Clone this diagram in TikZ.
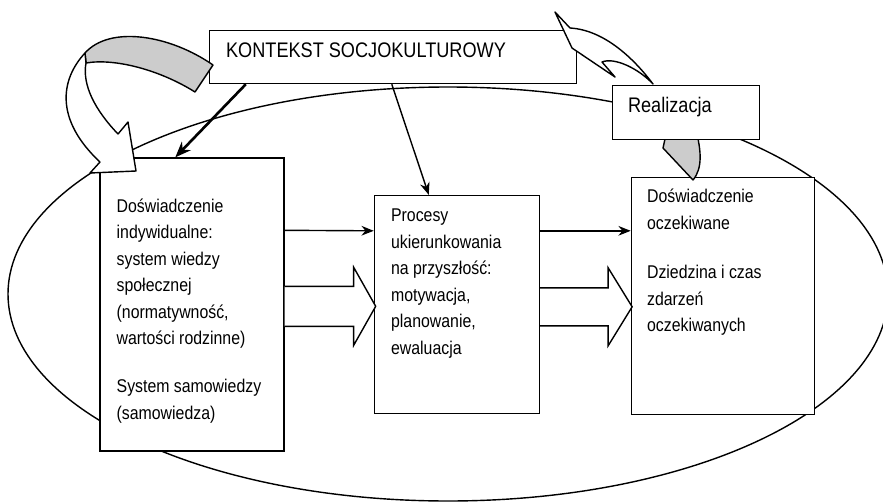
\documentclass[tikz,border=0pt]{standalone}
\usepackage{fontspec}
\setmainfont{Liberation Sans}[FakeStretch=0.86]
\usetikzlibrary{arrows.meta}
\tikzstyle{box} = [
    rectangle,
    inner sep=0pt,
    draw=black, line width=0.8pt, fill=white
]
\tikzstyle{txt} = [
    inner sep=0pt,
    font=\fontsize{10.5}{15.1}\selectfont
]
\tikzstyle{bigtxt} = [
    inner sep=0pt,
    font=\fontsize{12}{14}\selectfont
]
\tikzstyle{band} = [draw=black, line width=0.8pt, line join=round]
\tikzstyle{hollow} = [draw=black, fill=white, line width=0.8pt]
\tikzstyle{arrow} = [line width=0.8pt, ->, >={Stealth[length=7pt, width=5.5pt]}]
\tikzstyle{thickarrow} = [line width=1.5pt, ->, >={Stealth[length=9pt, width=7pt]}]

\begin{document}
\begin{tikzpicture}[x=0.02cm, y=-0.02cm, node distance=5.3cm]
        \useasboundingbox (0,0) rectangle (883,504);
        % Draw oval
        \draw[line width=0.8pt] (448,294) ellipse [x radius=440, y radius=207];

        % Draw blocks
        \node (indyw) [box, minimum width=3.68cm, minimum height=5.86cm] at (192,304.5) {};
        \node (procesy) [box, minimum width=3.3cm, minimum height=4.36cm, right of=indyw] {};
        \node (oczek) [box, minimum width=3.66cm, minimum height=4.74cm, right of=procesy, xshift=0.02cm, yshift=0.17cm] {};
        \node (kontekst) [box, minimum width=7.34cm, minimum height=1.06cm, above of=procesy, xshift=-1.28cm, yshift=-0.35cm] {};
        \draw[band, fill=black!20] (667,130) -- (663,148) -- (693,180) .. controls (703,168) and (701,150) .. (696,130) -- cycle;
        \node (realizacja) [box, minimum width=2.94cm, minimum height=1.08cm, right of=kontekst, xshift=0.56cm, yshift=-1.11cm] {};

        % Draw texts
        \node (indyw-t) [txt, anchor=base west] at ([shift={(17,55)}]indyw.north west)
            {\begin{tabular}[t]{@{}l@{}}Doświadczenie\\ indywidualne:\\ system wiedzy\\ społecznej\\ (normatywność,\\ wartości rodzinne)\\[12pt] System samowiedzy\\ (samowiedza)\end{tabular}};
        \node (procesy-t) [txt, anchor=base west] at ([shift={(17,27)}]procesy.north west)
            {\begin{tabular}[t]{@{}l@{}}Procesy\\ ukierunkowania\\ na przyszłość:\\ motywacja,\\ planowanie,\\ ewaluacja\end{tabular}};
        \node (oczek-t) [txt, anchor=base west] at ([shift={(16,26)}]oczek.north west)
            {\begin{tabular}[t]{@{}l@{}}Doświadczenie\\ oczekiwane\\[13pt] Dziedzina i czas\\ zdarzeń\\ oczekiwanych\end{tabular}};
        \node (kontekst-t) [bigtxt, anchor=base west] at ([shift={(17,28)}]kontekst.north west) {KONTEKST SOCJOKULTUROWY};
        \node (realizacja-t) [bigtxt, anchor=base west] at ([shift={(16,28)}]realizacja.north west) {Realizacja};

        % Draw curved arrows
        \draw[band, fill=black!20] (85,53) .. controls (110,25) and (170,35) .. (213,65) -- (195,92) .. controls (160,70) and (115,58) .. (86,63) -- cycle;
        \draw[band, fill=white] (85,53) .. controls (60,80) and (55,120) .. (100,162) -- (90,173) -- (136,171) -- (128,122) -- (118,134) .. controls (95,110) and (82,85) .. (86,63) -- cycle;
        \draw[band, fill=white] (555,12) -- (570,28) .. controls (605,30) and (635,60) .. (653,84) .. controls (638,68) and (614,57) .. (602,62) -- (615,77) -- (572,48) -- cycle;

        % Draw arrows
        \draw [thickarrow] ([xshift=0.74cm]kontekst.south west) -- ([xshift=1.52cm]indyw.north west);
        \draw [arrow] ([xshift=3.66cm]kontekst.south west) -- ([xshift=1.1cm]procesy.north west);
        \draw [arrow] ([yshift=-1.46cm]indyw.north east) -- ([yshift=-0.72cm]procesy.north west);
        \draw [arrow] ([yshift=-0.72cm]procesy.north east) -- ([yshift=-1.08cm]oczek.north west);
        \draw [hollow] ([yshift=-2.58cm]indyw.north east) -- ++(69,0) -- ++(0,-19) -- ++(22,39) -- ++(-22,39) -- ++(0,-19) -- ++(-69,0);
        \draw [hollow] ([yshift=-1.86cm]procesy.north east) -- ++(68,0) -- ++(0,-20) -- ++(24,39) -- ++(-24,39) -- ++(0,-20) -- ++(-68,0);
    \end{tikzpicture}
\end{document}
